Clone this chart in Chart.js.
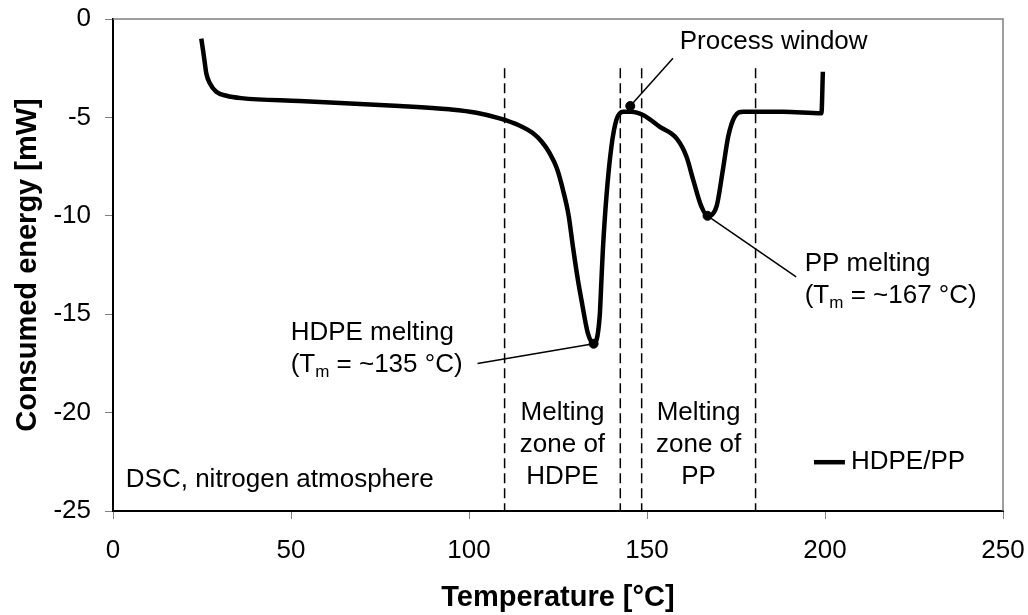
<!DOCTYPE html>
<html>
<head>
<meta charset="utf-8">
<title>DSC HDPE/PP</title>
<script src="https://cdn.jsdelivr.net/npm/chart.js@4.4.1/dist/chart.umd.min.js"></script>
<style>
  html, body { margin: 0; padding: 0; background: #fff; }
  #wrap { width: 1028px; height: 615px; position: relative; }
</style>
</head>
<body>
<div id="wrap"><canvas id="dscChart"></canvas></div>
<script>
// DSC trace of the HDPE/PP blend (temperature in °C, heat flow in mW)
const tempC = [24.8, 25.3, 25.8, 26.2, 27.2, 29.0, 31.9, 36.0, 52.4, 80.5, 94.5, 102.1, 108.6, 114.0,
    118.0, 120.5, 122.7, 124.7, 126.4, 128.0, 129.2, 130.6, 131.6, 133.4, 135.0, 136.7, 137.2, 137.6,
    138.6, 140.0, 141.4, 143.3, 145.6, 148.9, 153.6, 158.3, 161.1, 163.0, 165.3, 167.0, 169.5, 171.3,
    172.8, 174.6, 177.0, 188.2, 199.0, 199.4];
const energyMW = [-1.0, -1.6, -2.25, -2.76, -3.27, -3.70, -3.90, -4.02, -4.17, -4.42, -4.59, -4.76, -5.05, -5.40,
    -5.81, -6.25, -6.83, -7.6, -8.69, -10.0, -11.58, -13.27, -14.29, -15.98, -16.5, -15.13, -13.27, -11.74,
    -9.03, -6.49, -5.13, -4.71, -4.71, -4.88, -5.48, -6.07, -7.0, -8.19, -9.54, -10.0, -9.54, -7.68,
    -5.98, -4.97, -4.71, -4.71, -4.79, -2.68];

// melting zone boundaries (°C) and the height the dashed lines reach
const zoneBounds = [110, 142.5, 148.5, 180.5];
const zoneTop = -2.5;

// melting peaks (Tm) and the process window point
const peakTemps = [135, 167];
const peakEnergy = [-16.5, -10.0];
const windowPoint = [145.3, -4.42];

// leader line ends for the three callouts
const leaderEnds = [[102.4, -17.5], [191.9, -13.1], [157.3, -2.0]];

// axis ranges and tick steps
const xRange = [0, 250];
const xStep = 50;
const yRange = [-25, 0];
const yStep = 5;

const FONT = '"Liberation Sans", Arial, sans-serif';
const TXT = 26;

const curve = tempC.map((t, i) => ({ x: t, y: energyMW[i] }));

const datasets = [];
datasets.push({
    label: 'HDPE/PP',
    data: curve,
    showLine: true,
    borderColor: '#000',
    borderWidth: 4.5,
    pointRadius: 0,
    cubicInterpolationMode: 'monotone',
    fill: false
});

zoneBounds.forEach(b => {
    datasets.push({
        label: 'zone',
        data: [{ x: b, y: zoneTop }, { x: b, y: yRange[0] }],
        showLine: true,
        borderColor: '#000',
        borderWidth: 1.5,
        borderDash: [10, 5],
        pointRadius: 0
    });
});

const markers = peakTemps.map((t, i) => ({ x: t, y: peakEnergy[i] }));
markers.push({ x: windowPoint[0], y: windowPoint[1] });

markers.forEach((m, i) => {
    datasets.push({
        label: 'leader',
        data: [m, { x: leaderEnds[i][0], y: leaderEnds[i][1] }],
        showLine: true,
        borderColor: '#000',
        borderWidth: 1.5,
        pointRadius: 0
    });
});

datasets.push({
    label: 'marker',
    data: markers,
    showLine: false,
    pointRadius: 4.5,
    pointBackgroundColor: '#000',
    pointBorderColor: '#000'
});

// text placed in data units
const notes = [
    { x: 159.2, y: -1.17, align: 'left', lines: [[{ t: 'Process window' }]] },
    { x: 49.9, y: -15.96, align: 'left', lines: [
        [{ t: 'HDPE melting' }],
        [{ t: '(T' }, { t: 'm', sub: true }, { t: ' = ~135 °C)' }]
    ] },
    { x: 194.3, y: -12.46, align: 'left', lines: [
        [{ t: 'PP melting' }],
        [{ t: '(T' }, { t: 'm', sub: true }, { t: ' = ~167 °C)' }]
    ] },
    { x: (zoneBounds[0] + zoneBounds[1]) / 2, y: -20.03, align: 'center',
      lines: [[{ t: 'Melting' }], [{ t: 'zone of' }], [{ t: 'HDPE' }]] },
    { x: (zoneBounds[2] + zoneBounds[3]) / 2, y: -20.03, align: 'center',
      lines: [[{ t: 'Melting' }], [{ t: 'zone of' }], [{ t: 'PP' }]] },
    { x: 3.6, y: -23.44, align: 'left', lines: [[{ t: 'DSC, nitrogen atmosphere' }]] }
];

function drawLine(ctx, parts, x, y, align) {
    let w = 0;
    parts.forEach(p => {
        ctx.font = (p.sub ? 17 : TXT) + 'px ' + FONT;
        p.w = ctx.measureText(p.t).width;
        w += p.w;
    });
    let cx = align === 'center' ? x - w / 2 : x;
    parts.forEach(p => {
        ctx.font = (p.sub ? 17 : TXT) + 'px ' + FONT;
        ctx.fillText(p.t, cx, p.sub ? y + 7 : y);
        cx += p.w;
    });
}

const decorations = {
    id: 'decorations',
    beforeDatasetsDraw(chart) {
        const { ctx, chartArea: a } = chart;
        ctx.save();
        ctx.strokeStyle = '#7f7f7f';
        ctx.lineWidth = 1.5;
        ctx.beginPath();
        ctx.moveTo(a.left, a.top);
        ctx.lineTo(a.right, a.top);
        ctx.lineTo(a.right, a.bottom);
        ctx.stroke();
        ctx.restore();
    },
    afterDatasetsDraw(chart) {
        const { ctx } = chart;
        const xs = chart.scales.x, ys = chart.scales.y;
        ctx.save();
        ctx.fillStyle = '#000';
        ctx.textBaseline = 'middle';
        ctx.textAlign = 'left';
        notes.forEach(n => {
            const px = xs.getPixelForValue(n.x);
            let py = ys.getPixelForValue(n.y);
            n.lines.forEach(line => {
                drawLine(ctx, line, px, py, n.align);
                py += 32;
            });
        });

        // legend entry
        const ly = ys.getPixelForValue(-22.52);
        const lx0 = xs.getPixelForValue(196.9), lx1 = xs.getPixelForValue(205.6);
        ctx.strokeStyle = '#000';
        ctx.lineWidth = 4.5;
        ctx.beginPath();
        ctx.moveTo(lx0, ly);
        ctx.lineTo(lx1, ly);
        ctx.stroke();
        ctx.font = TXT + 'px ' + FONT;
        ctx.fillText(datasets[0].label, lx1 + 6, ly);
        ctx.restore();
    }
};

new Chart(document.getElementById('dscChart'), {
    type: 'scatter',
    data: { datasets: datasets },
    plugins: [decorations],
    options: {
        responsive: true,
        maintainAspectRatio: false,
        animation: false,
        layout: { padding: { top: 19, right: 25, left: 0, bottom: 0 } },
        plugins: {
            legend: { display: false },
            tooltip: { enabled: false }
        },
        scales: {
            x: {
                type: 'linear',
                min: xRange[0],
                max: xRange[1],
                afterFit(s) { s.height = 104; s.paddingLeft = 0; s.paddingRight = 0; },
                ticks: { stepSize: xStep, color: '#000', padding: 16, font: { family: FONT, size: TXT } },
                grid: { drawOnChartArea: false, tickLength: 8, color: '#7f7f7f', lineWidth: 1 },
                border: { color: '#000', width: 2 },
                title: {
                    display: true,
                    text: 'Temperature [°C]',
                    color: '#000',
                    font: { family: FONT, size: 29, weight: 'bold' },
                    padding: { top: 0, bottom: 0 }
                }
            },
            y: {
                type: 'linear',
                min: yRange[0],
                max: yRange[1],
                afterFit(s) { s.width = 113; s.paddingTop = 0; s.paddingBottom = 0; },
                ticks: { stepSize: yStep, color: '#000', padding: 14, font: { family: FONT, size: TXT } },
                grid: { drawOnChartArea: false, tickLength: 8, color: '#7f7f7f', lineWidth: 1 },
                border: { color: '#000', width: 2 },
                title: {
                    display: true,
                    text: 'Consumed energy [mW]',
                    color: '#000',
                    font: { family: FONT, size: 29, weight: 'bold' },
                    padding: { top: 11, bottom: 0 }
                }
            }
        }
    }
});
</script>
</body>
</html>
